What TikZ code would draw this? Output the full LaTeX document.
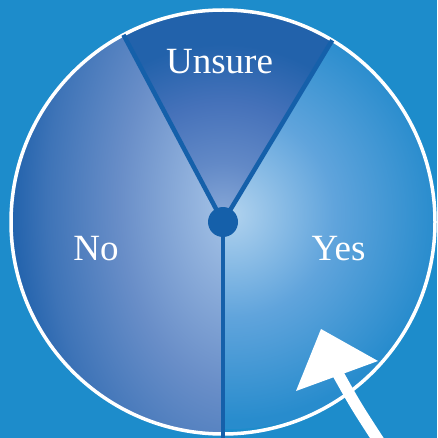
\documentclass[tikz,border=0pt]{standalone}
\usepackage{fontspec}
\setmainfont{Liberation Serif}
\usepackage{xcolor}
\usetikzlibrary{calc}
\definecolor{backdrop}{RGB}{29,140,203}
\definecolor{spoke}{RGB}{21,96,170}
\definecolor{no_light}{RGB}{170,200,234}
\definecolor{no_mid}{RGB}{105,142,200}
\definecolor{no_edge}{RGB}{33,98,172}
\definecolor{yes_light}{RGB}{176,210,238}
\definecolor{yes_mid}{RGB}{96,164,220}
\definecolor{yes_edge}{RGB}{40,140,205}
\definecolor{unsure_light}{RGB}{140,172,218}
\definecolor{unsure_mid}{RGB}{70,114,186}
\definecolor{unsure_edge}{RGB}{34,98,171}
\pgfdeclareradialshading{noshade}{\pgfpointorigin}{color(0bp)=(no_light); color(13bp)=(no_mid); color(21bp)=(no_edge!60!no_mid); color(25bp)=(no_edge); color(50bp)=(no_edge)}
\pgfdeclareradialshading{yesshade}{\pgfpointorigin}{color(0bp)=(yes_light); color(12bp)=(yes_mid); color(24bp)=(yes_edge); color(50bp)=(yes_edge)}
\pgfdeclareradialshading{unsureshade}{\pgfpointorigin}{color(0bp)=(unsure_light); color(7bp)=(unsure_mid!60!unsure_light); color(14bp)=(unsure_mid); color(21bp)=(unsure_edge); color(50bp)=(unsure_edge)}

\begin{document}
\begin{tikzpicture}[x=1pt, y=1pt,
    label/.style = {text=white, font=\fontsize{37}{37}\selectfont, anchor=base},
    spokeline/.style = {draw=spoke, line width=4.5pt}]
    \fill[backdrop] (0,0) rectangle (437,-438);
    \useasboundingbox (0,0) rectangle (437,-438);
    \coordinate (hub) at (223,-222);
    \coordinate (rimleft) at ($(hub)+(118:212)$);
    \coordinate (rimright) at ($(hub)+(59:212)$);
    \coordinate (foot) at (223,-438);
    % sectors
    \begin{scope}
        \clip (hub) -- (rimleft) arc (118:270:212) -- cycle;
        \shade[shading=noshade] ($(hub)+(15,20)$) ellipse (228 and 360);
    \end{scope}
    \begin{scope}
        \clip (hub) -- (rimright) arc (59:-90:212) -- cycle;
        \shade[shading=yesshade] ($(hub)+(8,8)$) circle (215);
    \end{scope}
    \begin{scope}
        \clip (hub) -- (rimright) arc (59:118:212) -- cycle;
        \shade[shading=unsureshade] (hub) circle (212);
    \end{scope}
    \draw[white, line width=3.5pt] (hub) circle (212);
    \draw[spokeline] (hub) -- (rimleft);
    \draw[spokeline] (hub) -- (rimright);
    \draw[spokeline] (hub) -- (foot);
    \fill[spoke] (hub) circle (15);
    \node[label] (unsure) at (219.5,-74) {Unsure};
    \node[label] (no) at (96,-260) {No};
    \node[label] (yes) at (338.5,-260) {Yes};
    % pointer
    \draw[white, line width=11.5pt] (382,-446) .. controls (356,-406) .. (337,-372);
    \fill[white] (321,-329) -- (296,-391) -- (378,-361) -- cycle;
\end{tikzpicture}
\end{document}
